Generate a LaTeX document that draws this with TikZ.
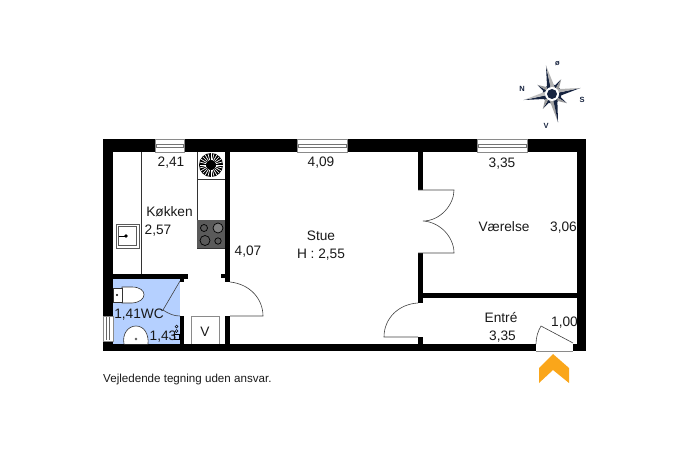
\documentclass[tikz,border=0pt]{standalone}
\usepackage{fontspec}
\setmainfont{Liberation Sans}
\definecolor{edgec}{HTML}{8A8A8A}
\definecolor{wcblue}{HTML}{B5D0FF}
\definecolor{navy}{HTML}{16233F}
\definecolor{orangec}{HTML}{FAA61A}
\definecolor{hob}{HTML}{5A5A5A}
\tikzset{
  wall/.style={fill=black,draw=none},
  fix/.style={draw=black!80,line width=0.6pt},
  doorline/.style={draw=black!75,line width=0.6pt},
  lbl/.style={font=\fontsize{13.7}{15}\selectfont,inner sep=0pt,text=black!90,yshift=-1.5pt},
  dirl/.style={font=\bfseries\fontsize{7.5}{8}\selectfont,inner sep=0pt,text=navy}
}
\begin{document}
\begin{tikzpicture}[x=1pt,y=-1pt]
\useasboundingbox (0,0) rectangle (687,457);
% WC floor
\fill[wcblue] (113,279) rectangle (180,344);
% walls
\fill[wall] (103,139) rectangle (586,152);
\fill[wall] (103,139) rectangle (113,351);
\fill[wall] (577,139) rectangle (586,351);
\fill[wall] (103,344) rectangle (536,351);
\fill[wall] (573,344) rectangle (586,351);
\fill[wall] (225,152) rectangle (230,282);
\fill[wall] (225,316) rectangle (230,344);
\fill[wall] (221,274) rectangle (225,278);
\fill[wall] (113,274) rectangle (188,279);
\fill[wall] (180,279) rectangle (184,282);
\fill[wall] (180,316) rectangle (184,344);
\fill[wall] (418,152) rectangle (423,190);
\fill[wall] (418,253) rectangle (423,303);
\fill[wall] (418,337) rectangle (423,344);
\fill[wall] (423,293) rectangle (577,298);
% windows top
\foreach \a/\b in {155/184,297/347,477/527}{
  \fill[white] (\a,138.5) rectangle (\b,152);
  \draw[edgec,line width=0.6pt] (\a,139) rectangle (\b,152);
  \draw[black!55,line width=0.5pt] (\a+1,144) rectangle (\b-1,147.5);
}
% WC window
\fill[white] (102.5,316) rectangle (113,341);
\draw[edgec,line width=0.6pt] (103,316) rectangle (113,341);
\draw[black!60,line width=0.5pt] (106.5,317) -- (106.5,340) (109.5,317) -- (109.5,340);
% entrance opening
\fill[white] (536,343.5) rectangle (573,351.5);
\draw[edgec,line width=0.8pt] (536,351) -- (573,351);
% kitchen
\draw[fix] (141,152) -- (141,274);
\draw[fix] (197,152) -- (197,248);
\draw[fix] (197,179) -- (225,179);
\draw[fix] (197,248) -- (225,248);
\fill[hob] (197,220) rectangle (225,248);
\draw[black,line width=0.7pt] (204,228) circle (3.5);
\fill[black!50,draw=black,line width=0.7pt] (218,228) circle (5);
\draw[black,line width=0.7pt] (205,240.5) circle (5);
\draw[black,line width=0.7pt] (218,241) circle (3.2);
% hood
\fill[black] (211,165) circle (12);
\foreach \ang in {0,15,...,345}{
  \draw[white,line width=0.7pt] (\ang:5)++(211,165) -- ++(\ang:6.5);
}
\fill[black] (211,165) circle (3.5);
% sink
\draw[black!65,fill=white,line width=0.7pt] (116,224) rectangle (139,248);
\draw[black!65,line width=0.6pt] (118.5,226.5) rectangle (136.5,245.5);
\draw[black,line width=0.7pt] (118.5,236) -- (126,236);
\fill[black] (126,236) circle (1.9);
% toilet
\draw[fix,fill=white] (122,287) -- (122,303) -- (132,303) .. controls (148,302) and (148,287) .. (132,287) -- cycle;
\draw[fix,fill=white] (113.5,288) rectangle (122,302);
\fill[black] (117,295) circle (1.2);
% basin
\draw[fix,fill=white] (124,344) .. controls (122,334) and (128,326) .. (136,326) .. controls (144,326) and (149,334) .. (148,344);
\draw[black!70,line width=0.5pt] (136,339) circle (1);
% towel symbol
\draw[black,line width=0.5pt] (176.5,326.5) circle (1.4) (176.5,331) circle (1.4);
\draw[black,line width=0.5pt] (174.5,334) rectangle (179,339.5);
% V box
\draw[edgec,line width=0.7pt] (191,344) -- (191,316) -- (219,316) -- (219,344);
% doors
\draw[doorline] (180,281) -- (163,310) .. controls (169,314) and (174,316) .. (180,316);
\draw[doorline] (230,282) .. controls (250,284) and (263,299) .. (263,316) -- (230,316);
\draw[doorline] (418,190) -- (454,190) .. controls (454,205) and (440,221) .. (423,221) .. controls (440,222) and (454,237) .. (454,253) -- (418,253);
\draw[doorline] (418,303) .. controls (399,304) and (384,318) .. (384,337) -- (418,337);
\draw[doorline] (573,343) -- (541,326) .. controls (538,331) and (536,337) .. (536,344);
% arrow
\fill[orangec] (553,354) -- (569,368) -- (569,383) -- (553,370) -- (539,383) -- (539,368) -- cycle;
% compass
\begin{scope}[shift={(552,94)}]
  \draw[navy,line width=1pt] (0,0) circle (9);
  \foreach \ang in {48,138,228,318}{
    \begin{scope}[rotate=\ang]
      \fill[navy] (0,0) -- (17,-3) -- (0,-4) -- cycle;
      \fill[black!40] (0,0) -- (17,-3) -- (4,4) -- cycle;
    \end{scope}
  }
  \begin{scope}[rotate=12]
  \fill[navy] (0,-4) -- (0,-29) -- (-4,-4) -- cycle;
  \fill[black!30] (0,-4) -- (0,-29) -- (4.5,-4) -- cycle;
  \fill[black!35] (0,4) -- (0,29) -- (-4,4) -- cycle;
  \fill[navy] (0,4) -- (0,29) -- (4.5,4) -- cycle;
  \fill[navy] (-4,0) -- (-29,0) -- (-4,4) -- cycle;
  \fill[black!25] (-4,0) -- (-29,0) -- (-4,-4) -- cycle;
  \fill[navy] (4,0) -- (29,0) -- (4,4) -- cycle;
  \fill[black!30] (4,0) -- (29,0) -- (4,-4) -- cycle;
  \end{scope}
  \fill[white] (0,0) circle (7);
  \fill[navy] (0,0) circle (5);
\end{scope}
\node[dirl] (dirn) at (522,88.5) {N};
\node[dirl] (dirs) at (582,100) {S};
\node[dirl] (dirv) at (546,125.5) {V};
\node[dirl] (diro) at (557.5,63.5) {ø};
% labels
\node[lbl] (a) at (171,161) {2,41};
\node[lbl] (b) at (321,161) {4,09};
\node[lbl] (c) at (502,162) {3,35};
\node[lbl] (d) at (169.5,210) {Køkken};
\node[lbl] (e) at (158,229) {2,57};
\node[lbl] (f) at (248,250) {4,07};
\node[lbl] (g) at (321,234) {Stue};
\node[lbl] (h) at (321,253) {H : 2,55};
\node[lbl] (i) at (504,225) {Værelse};
\node[lbl] (j) at (563.5,226) {3,06};
\node[lbl] (k) at (501,316) {Entré};
\node[lbl] (l) at (502.5,335) {3,35};
\node[lbl] (m) at (564.5,321) {1,00};
\node[lbl] (n) at (139,313) {1,41WC};
\node[lbl] (o) at (163,335.5) {1,43};
\node[lbl] (p) at (205,330) {V};
\node[font=\fontsize{11.6}{13}\selectfont,inner sep=0pt,anchor=west,text=black!90] (q) at (103,379) {Vejledende tegning uden ansvar.};
\end{tikzpicture}
\end{document}
